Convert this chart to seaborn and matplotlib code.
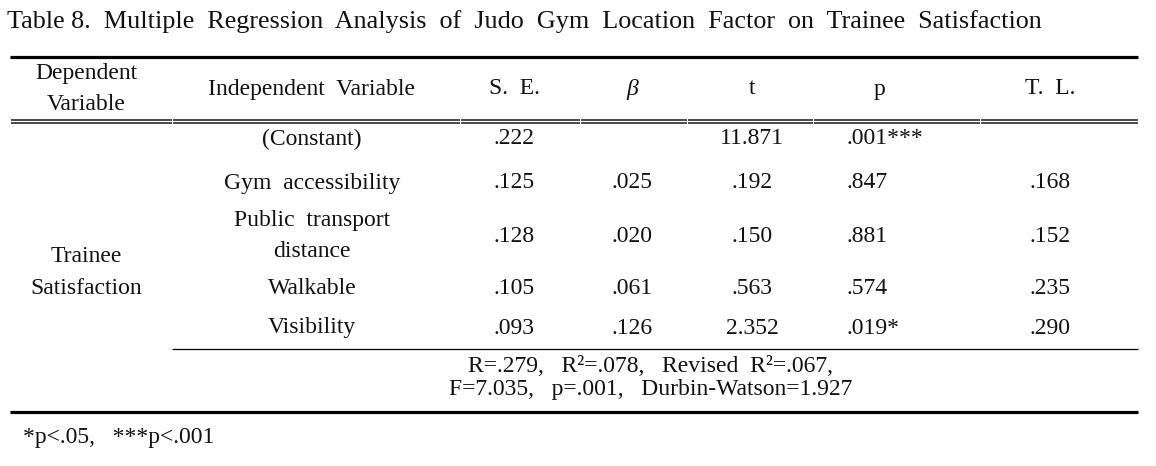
import matplotlib
matplotlib.use("Agg")
import matplotlib.pyplot as plt
import seaborn as sns

# ---------------- data ----------------
title = "Table 8.  Multiple  Regression  Analysis  of  Judo  Gym  Location  Factor  on  Trainee  Satisfaction"
headers = ["Dependent\nVariable", "Independent  Variable", "S.  E.", "β", "t", "p", "T.  L."]
dependent_var = "Trainee\nSatisfaction"
independent_vars = ["(Constant)", "Gym  accessibility", "Public  transport\ndistance", "Walkable", "Visibility"]
se_vals = [".222", ".125", ".128", ".105", ".093"]
beta_vals = ["", ".025", ".020", ".061", ".126"]
t_vals = ["11.871", ".192", ".150", ".563", "2.352"]
p_vals = [".001***", ".847", ".881", ".574", ".019*"]
tl_vals = ["", ".168", ".152", ".235", ".290"]
summary_lines = ["R=.279,   R²=.078,   Revised  R²=.067,", "F=7.035,   p=.001,   Durbin-Watson=1.927"]
footnote = "*p<.05,   ***p<.001"

# ---------------- style ----------------
sns.set_theme(style="white")
plt.rcParams["font.family"] = ["Liberation Serif", "DejaVu Serif"]
FS = 17
TFS = 18.8
TXT = "#111111"

W, H = 1156, 466
fig = plt.figure(figsize=(W / 100, H / 100), dpi=100)
ax = fig.add_axes([0, 0, 1, 1])
ax.set_xlim(0, W)
ax.set_ylim(H, 0)
ax.axis("off")

# layout (pixels)
x_left, x_right = 10, 1138
col_x = [86, 312, 514, 632, 752, 880, 1050]
p_left = 846
y_title = 22
y_top = 57
y_head = 89
y_head_two = (73, 105)
y_dbl = (119.5, 123)
row_y = [139, 183, 236, 288, 328]
two_line_gap = 31
y_dep = (257, 289)
y_thin = 349
y_sum = [366, 389]
y_bottom = 412
y_foot = 438


def put(x, y, s, ha="center", **kw):
    ax.text(x, y, s, fontsize=FS, ha=ha, va="center", color=TXT, **kw)


def put_lines(x, yc, s, **kw):
    lines = s.split("\n")
    n = len(lines)
    for k, line in enumerate(lines):
        put(x, yc + (k - (n - 1) / 2) * two_line_gap, line, **kw)


ax.text(7, y_title, title, fontsize=TFS, ha="left", va="center", color=TXT)

# rules
ax.hlines(y_top, x_left, x_right, color="black", lw=2.3)
bounds = [x_left, 172, 460, 580, 687, 813, 980, x_right]
for yy in y_dbl:
    for a, b in zip(bounds[:-1], bounds[1:]):
        ax.hlines(yy, a + 0.5, b - 0.5, color="#3c3c3c", lw=1.3)
ax.hlines(y_thin, 172, x_right, color="black", lw=0.9)
ax.hlines(y_bottom, x_left, x_right, color="black", lw=2.3)

# header
for hx, h in zip(col_x, headers):
    style = "italic" if h == "β" else "normal"
    if "\n" in h:
        a, b = h.split("\n")
        put(hx, y_head_two[0], a)
        put(hx, y_head_two[1], b)
    else:
        put(hx, y_head, h, style=style)

# dependent variable
a, b = dependent_var.split("\n")
put(col_x[0], y_dep[0], a)
put(col_x[0], y_dep[1], b)

# body
for i, y in enumerate(row_y):
    put_lines(col_x[1], y, independent_vars[i])
    put(col_x[2], y, se_vals[i])
    put(col_x[3], y, beta_vals[i])
    put(col_x[4], y, t_vals[i])
    put(p_left, y, p_vals[i], ha="left")
    put(col_x[6], y, tl_vals[i])

# summary
for y, s in zip(y_sum, summary_lines):
    put(651, y, s)

put(23, y_foot, footnote, ha="left")

fig.savefig("out.png", dpi=100, facecolor="white")
